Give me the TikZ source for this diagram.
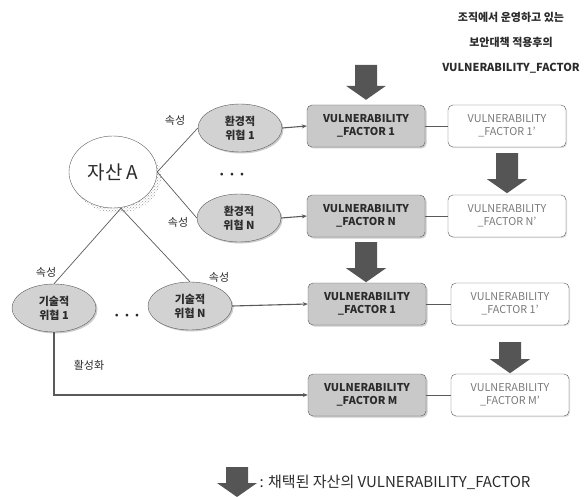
\documentclass[tikz,border=0pt]{standalone}
\usepackage{fontspec}
\setmainfont{Noto Sans CJK KR}
\usetikzlibrary{
  arrows.meta,
  positioning,
  calc,
  shapes.geometric,
  shadows,
  patterns,
}
\definecolor{ink}{HTML}{2B2B2B}
\definecolor{edge}{HTML}{5A5A5A}
\definecolor{muted}{HTML}{7A7A7A}
\definecolor{boxgray}{HTML}{C9C9C9}
\definecolor{threatfill}{HTML}{D2D2D2}
\definecolor{arrowgray}{HTML}{555555}
\definecolor{shade}{HTML}{9A9A9A}
\tikzset{
  >=Stealth,
  font=\fontsize{10}{12}\selectfont,
  every node/.append style={text=ink},
  attr/.style={font=\fontsize{11}{13}\selectfont},
  dotrow/.style={font=\bfseries\fontsize{13}{13}\selectfont},
  threat/.style={
    ellipse,
    draw=edge,
    fill=threatfill,
    minimum width=84pt,
    minimum height=48pt,
    inner sep=0pt,
    align=center,
    font=\bfseries\fontsize{11}{14}\selectfont,
    drop shadow={shadow xshift=1.5pt, shadow yshift=-1.5pt, fill=shade},
  },
  vfgray/.style={
    draw=edge,
    fill=boxgray,
    rounded corners=5pt,
    minimum width=118pt,
    minimum height=42pt,
    inner sep=1pt,
    align=center,
    font=\bfseries\fontsize{10.8}{13.5}\selectfont,
    drop shadow={shadow xshift=1.5pt, shadow yshift=-1.5pt, fill=shade},
  },
  vfwhite/.style={
    draw=edge,
    fill=white,
    rounded corners=5pt,
    minimum width=118pt,
    minimum height=42pt,
    inner sep=1pt,
    align=center,
    text=muted,
    font=\fontsize{10.8}{13.5}\selectfont,
    drop shadow={shadow xshift=1.2pt, shadow yshift=-1.2pt, fill=shade!60},
  },
  link/.style={draw=edge, line width=0.7pt},
  feed/.style={draw=edge, line width=1.1pt, -{Stealth[length=5pt,width=4pt]}},
  pics/fatdown/.style={
    code={
      \fill[arrowgray] (-11,0) -- (11,0) -- (11,#1-14) -- (20,#1-14)
        -- (0,#1) -- (-20,#1-14) -- (-11,#1-14) -- cycle;
    }
  },
}

\begin{document}
\begin{tikzpicture}[x=1pt,y=-1pt]
  \useasboundingbox (0,0) rectangle (588,497);

  % note at the top right
  \node[font=\bfseries\fontsize{11}{25}\selectfont, align=center] (note) at (511,43)
    {조직에서 운영하고 있는\\보안대책 적용후의\\VULNERABILITY\_FACTOR};

  % asset with its dotted shadow
  \node[ellipse, minimum width=88pt, minimum height=72pt,
    pattern=crosshatch dots, pattern color=shade] at (117,177) {};
  \node[ellipse, draw=edge, fill=white, minimum width=88pt, minimum height=72pt,
    font=\fontsize{19}{22}\selectfont] (asset) at (113,172) {자산 A};

  % threats
  \node[threat] (env1) at (240,128) {환경적\\위협 1};
  \node[threat] (envN) at (239,218) {환경적\\위협 N};
  \node[threat] (tech1) at (54,308) {기술적\\위협 1};
  \node[threat] (techN) at (190,306) {기술적\\위협 N};
  \node[dotrow] (dotsE) at (232,176) {·\,·\,·};
  \node[dotrow] (dotsT) at (127,317) {·\,·\,·};

  % vulnerability factors, before and after the controls
  \node[vfgray] (gf1) at (366,126) {VULNERABILITY\\\_FACTOR 1};
  \node[vfgray] (gfN) at (366,216) {VULNERABILITY\\\_FACTOR N};
  \node[vfgray] (gf3) at (367,304) {VULNERABILITY\\\_FACTOR 1};
  \node[vfgray] (gfM) at (367,395) {VULNERABILITY\\\_FACTOR M};
  \node[vfwhite] (rf1) at (507,126) {VULNERABILITY\\\_FACTOR 1'};
  \node[vfwhite] (rfN) at (507,216) {VULNERABILITY\\\_FACTOR N'};
  \node[vfwhite] (rf3) at (510,304) {VULNERABILITY\\\_FACTOR 1'};
  \node[vfwhite] (rfM) at (510,395) {VULNERABILITY\\\_FACTOR M'};

  % attribute links
  \draw[link] (asset.east) -- (env1.west);
  \draw[link] (asset.east) -- (envN.west);
  \draw[link] ([xshift=8pt]asset.south) -- (tech1.north);
  \draw[link] ([xshift=8pt]asset.south) -- (techN.north);
  \node[attr] (a1) at (175,120) {속성};
  \node[attr] (a2) at (178,222) {속성};
  \node[attr] (a3) at (46,272) {속성};
  \node[attr] (a4) at (219,277) {속성};

  % threats feed the factors
  \draw[feed] (env1.east) -- (gf1.west);
  \draw[feed] (envN.east) -- (gfN.west);
  \draw[feed] (techN.east) -- (gf3.west);
  \coordinate (bend) at (tech1.south |- gfM.west);
  \draw[feed] (tech1.south) -- (bend) -- (gfM.west);
  \node[attr] (act) at (89,365) {활성화};

  \foreach \row in {1,N,3,M} {
    \draw[link] (gf\row.east) -- (rf\row.west);
  }

  % selected factors
  \pic at ([yshift=40pt]gf1.north) {fatdown=35};
  \pic at ([yshift=-6pt]rf1.south) {fatdown=40};
  \pic at ([yshift=-5pt]gfN.south) {fatdown=40};
  \pic at ([yshift=-17pt]rf3.south) {fatdown=31};

  % legend
  \pic at (237,467) {fatdown=30};
  \node[anchor=west, font=\fontsize{15}{17}\selectfont] (legend) at (256,482)
    {: 채택된 자산의 VULNERABILITY\_FACTOR};
\end{tikzpicture}
\end{document}
